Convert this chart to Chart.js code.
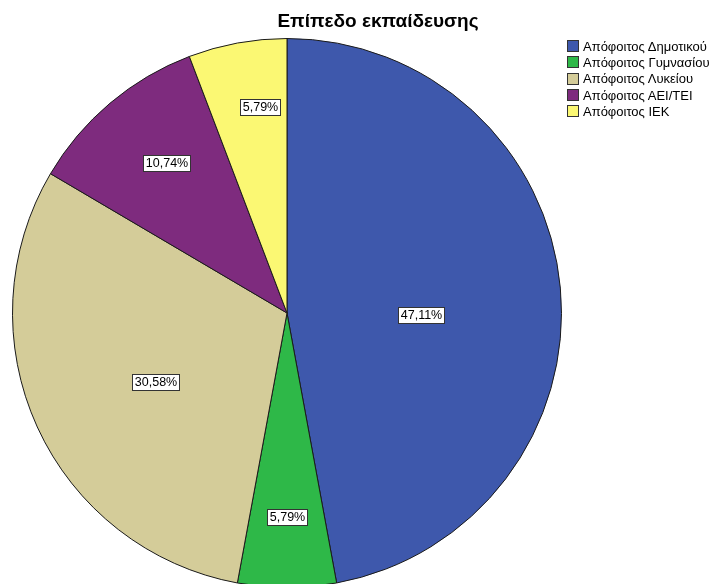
<!DOCTYPE html>
<html>
<head>
<meta charset="utf-8">
<script src="https://cdn.jsdelivr.net/npm/chart.js@4/dist/chart.umd.min.js"></script>
<style>
  html, body { margin: 0; padding: 0; background: #fff; overflow: hidden; }
  #wrap { position: relative; width: 715px; height: 600px; }
  #c { position: absolute; left: 0; top: 0; }
  #title { position: absolute; left: 228px; top: 10px; width: 300px; text-align: center; white-space: nowrap;
           font: bold 19px "Liberation Sans", Arial, sans-serif; line-height: 22px; color: #000; }
  #legend { position: absolute; left: 567px; top: 38px; font: 13px "Liberation Sans", Arial, sans-serif; color: #000; }
  .row { display: flex; align-items: center; height: 16.3px; white-space: nowrap; }
  .sw { width: 10px; height: 10px; border: 1px solid #333; margin-right: 4px; flex: none; }
</style>
</head>
<body>
<div id="wrap">
  <canvas id="c" width="715" height="600"></canvas>
  <div id="title">Επίπεδο εκπαίδευσης</div>
  <div id="legend"></div>
</div>
<script>
const categories = ["Απόφοιτος Δημοτικού", "Απόφοιτος Γυμνασίου", "Απόφοιτος Λυκείου", "Απόφοιτος ΑΕΙ/ΤΕΙ", "Απόφοιτος ΙΕΚ"];
const percentages = [47.11, 5.79, 30.58, 10.74, 5.79];
const sliceColors = ["#3E58AC", "#2EB848", "#D4CC99", "#7E2B7E", "#FBF873"];
// label placement inside each slice: fraction of the slice's sweep, fraction of the radius
const labelSweep = [0.536, 0.5, 0.472, 0.537, 0.64];
const labelRadius = [0.487, 0.744, 0.542, 0.70, 0.756];

const fmt = v => v.toFixed(2).replace('.', ',') + '%';

const labelPlugin = {
  id: 'sliceLabels',
  afterDatasetsDraw(chart) {
    const ctx = chart.ctx;
    const meta = chart.getDatasetMeta(0);
    ctx.save();
    ctx.font = '12.5px "Liberation Sans", Arial, sans-serif';
    ctx.textAlign = 'center';
    ctx.textBaseline = 'middle';
    meta.data.forEach((arc, i) => {
      const p = arc.getProps(['x', 'y', 'startAngle', 'endAngle', 'outerRadius'], true);
      const a = p.startAngle + (p.endAngle - p.startAngle) * labelSweep[i];
      const r = p.outerRadius * labelRadius[i];
      const x = p.x + Math.cos(a) * r;
      const y = p.y + Math.sin(a) * r;
      const txt = fmt(chart.data.datasets[0].data[i]);
      const w = Math.round(ctx.measureText(txt).width) + 5;
      const h = 16;
      const bx = Math.round(x - w / 2) + 0.5, by = Math.round(y - h / 2) + 0.5;
      ctx.fillStyle = '#fff';
      ctx.fillRect(bx, by, w, h);
      ctx.strokeStyle = '#333';
      ctx.lineWidth = 1;
      ctx.strokeRect(bx, by, w, h);
      ctx.fillStyle = '#000';
      ctx.fillText(txt, bx + w / 2, by + h / 2 + 0.5);
    });
    ctx.restore();
  }
};

const chart = new Chart(document.getElementById('c'), {
  type: 'pie',
  data: {
    labels: categories,
    datasets: [{
      data: percentages,
      backgroundColor: sliceColors,
      borderColor: '#1a1a1a',
      borderWidth: 1
    }]
  },
  options: {
    responsive: false,
    animation: false,
    layout: { padding: { left: 12, top: 38, right: 153, bottom: 12 } },
    plugins: { legend: { display: false }, tooltip: { enabled: false }, title: { display: false } }
  },
  plugins: [labelPlugin]
});

const leg = document.getElementById('legend');
categories.forEach((c, i) => {
  const row = document.createElement('div');
  row.className = 'row';
  const sw = document.createElement('span');
  sw.className = 'sw';
  sw.style.background = sliceColors[i];
  const t = document.createElement('span');
  t.textContent = c;
  row.appendChild(sw);
  row.appendChild(t);
  leg.appendChild(row);
});
</script>
</body>
</html>
